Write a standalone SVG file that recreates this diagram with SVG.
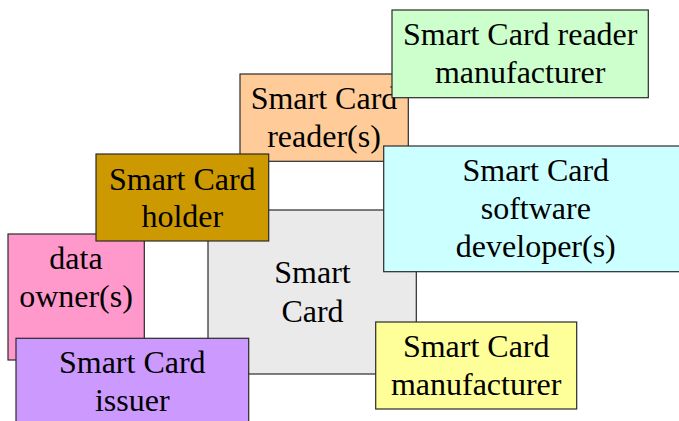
<svg xmlns="http://www.w3.org/2000/svg" width="679" height="421" viewBox="0 0 679 421">
  <style>
    .box { stroke: #2a2a2a; stroke-width: 1.2; }
    text { font-family: 'Liberation Serif', 'Times New Roman', serif; font-size: 32px; fill: #000000; text-anchor: middle; }
  </style>
  <rect width="679" height="421" fill="#ffffff"/>

  <!-- central card -->
  <g id="smart-card">
    <rect class="box" x="208" y="210" width="208.3" height="164" fill="#EAEAEA"/>
    <text x="312.5" y="283.3">Smart</text>
    <text x="312.5" y="321.7">Card</text>
  </g>

  <g id="data-owner">
    <rect class="box" x="8" y="234" width="136.3" height="126" fill="#FF99CC"/>
    <text x="76" y="269.3">data</text>
    <text x="76" y="306.7">owner(s)</text>
  </g>

  <g id="card-reader">
    <rect class="box" x="240" y="74" width="168.3" height="87.3" fill="#FFCC99"/>
    <text x="324" y="109.3">Smart Card</text>
    <text x="324" y="146.7">reader(s)</text>
  </g>

  <g id="card-holder">
    <rect class="box" x="96" y="154" width="172.7" height="87" fill="#CC9900"/>
    <text x="182.3" y="190">Smart Card</text>
    <text x="182.3" y="227.3">holder</text>
  </g>

  <g id="reader-manufacturer">
    <rect class="box" x="392" y="10" width="256.3" height="87.7" fill="#CCFFCC"/>
    <text x="520.2" y="45">Smart Card reader</text>
    <text x="520.2" y="82.7">manufacturer</text>
  </g>

  <g id="software-developer">
    <rect class="box" x="383.7" y="146" width="304" height="125.7" fill="#CCFFFF"/>
    <text x="535.8" y="181">Smart Card</text>
    <text x="535.8" y="218.7">software</text>
    <text x="535.8" y="257.3">developer(s)</text>
  </g>

  <g id="card-manufacturer">
    <rect class="box" x="375.7" y="322" width="201" height="87" fill="#FFFF99"/>
    <text x="476.2" y="357.3">Smart Card</text>
    <text x="476.2" y="395">manufacturer</text>
  </g>

  <g id="card-issuer">
    <rect class="box" x="16" y="338.3" width="232.7" height="95" fill="#CC99FF"/>
    <text x="132.3" y="373.3">Smart Card</text>
    <text x="132.3" y="410.7">issuer</text>
  </g>
</svg>
